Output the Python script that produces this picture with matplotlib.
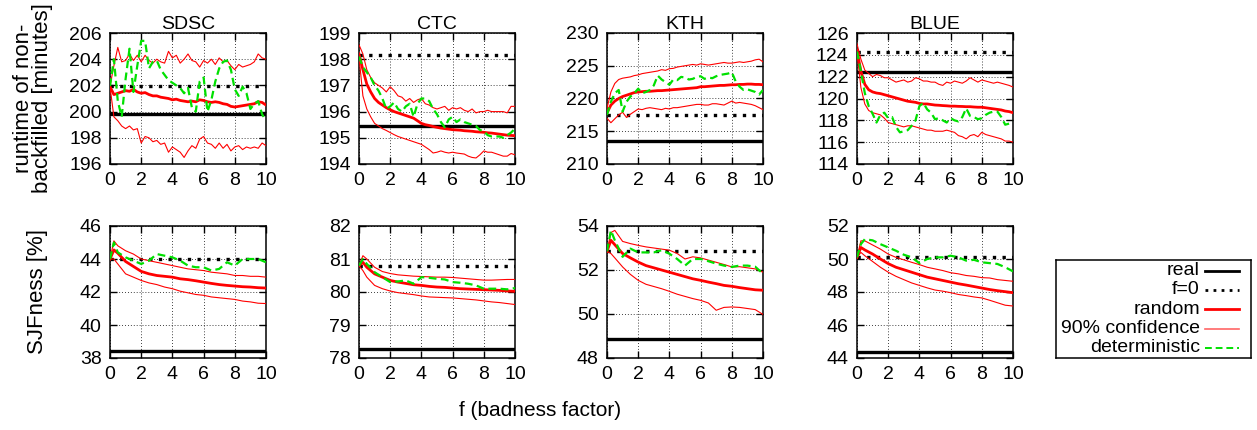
import numpy as np
import matplotlib.pyplot as plt

plt.rcParams['font.family'] = ['Liberation Sans', 'DejaVu Sans']
plt.rcParams['font.size'] = 14

W, H = 1257, 430

# badness factor samples
F_TOP = np.arange(0, 10.01, 0.25)
F_BOT = np.array([0, 0.25] + list(np.arange(0.5, 10.01, 0.5)))

SITES = ["SDSC", "CTC", "KTH", "BLUE"]

# ---- runtime of non-backfilled jobs [minutes] ----
RT_REAL = [199.85, 195.45, 213.5, 122.4]
RT_F0 = [201.95, 198.15, 217.5, 124.25]
RT_YLIM = [(196, 206, 2), (194, 199, 1), (210, 230, 5), (114, 126, 2)]

SDSC_RT_RANDOM = [201.9, 201.3, 201.4, 201.5, 201.6, 201.55, 201.7, 201.5, 201.4, 201.45,
                  201.3, 201.2, 201.2, 201.1, 201.05, 201.0, 200.9, 200.95, 200.85, 200.8,
                  200.75, 200.8, 200.75, 200.9, 200.85, 200.75, 200.7, 200.75, 200.7, 200.6,
                  200.55, 200.4, 200.35, 200.4, 200.45, 200.5, 200.55, 200.6, 200.75, 200.7, 200.5]
SDSC_RT_HI = [201.95, 203.5, 204.9, 203.8, 203.9, 204.4, 203.9, 204.3, 203.8, 204.3,
              203.9, 203.7, 204.0, 203.8, 203.7, 204.6, 204.1, 204.3, 203.7, 204.0,
              204.4, 203.9, 203.8, 203.4, 203.9, 203.7, 204.0, 203.6, 204.1, 203.8,
              203.9, 203.5, 203.2, 203.6, 203.4, 203.5, 203.6, 203.8, 204.4, 204.1, 204.0]
SDSC_RT_LO = [201.9, 199.6, 199.3, 198.9, 198.7, 198.9, 198.6, 198.7, 197.6, 198.1,
              198.0, 197.7, 197.8, 197.5, 197.6, 196.9, 197.3, 197.1, 196.9, 196.5,
              197.0, 197.4, 197.2, 197.9, 198.1, 197.6, 197.5, 197.2, 197.6, 197.2,
              197.5, 197.0, 197.3, 197.4, 197.1, 197.3, 197.2, 197.3, 197.2, 197.6, 197.4]
SDSC_RT_DET = [201.95, 204.0, 200.8, 199.6, 202.5, 204.8, 201.5, 203.5, 205.4, 205.4,
               203.3, 203.8, 203.9, 203.2, 202.8, 202.4, 202.2, 202.0, 201.8, 201.4,
               201.8, 200.3, 200.0, 202.3, 202.6, 200.0, 200.9, 202.3, 203.3, 203.8,
               203.9, 203.2, 201.7, 201.2, 201.9, 201.4, 200.2, 200.6, 200.8, 199.8, 199.3]

CTC_RT_RANDOM = [198.2, 197.6, 197.05, 196.75, 196.5, 196.35, 196.25, 196.15, 196.07, 196.0,
                 195.95, 195.9, 195.85, 195.8, 195.75, 195.65, 195.55, 195.5, 195.47, 195.43,
                 195.4, 195.37, 195.35, 195.33, 195.31, 195.3, 195.29, 195.27, 195.26, 195.25,
                 195.23, 195.22, 195.21, 195.19, 195.18, 195.16, 195.14, 195.12, 195.1, 195.09, 195.08]
CTC_RT_HI = [198.55, 198.2, 197.6, 197.3, 197.1, 197.0, 196.9, 196.75, 196.95, 196.8,
             196.6, 196.55, 196.4, 196.5, 196.35, 196.45, 196.5, 196.3, 196.25, 196.15,
             196.1, 196.15, 196.2, 196.05, 196.15, 196.1, 196.15, 196.05, 196.0, 196.1,
             195.95, 196.0, 196.0, 196.05, 196.0, 196.0, 196.0, 196.0, 195.95, 196.2, 196.2]
CTC_RT_LO = [198.1, 196.6, 196.1, 195.8, 195.55, 195.45, 195.35, 195.28, 195.2, 195.12,
             195.05, 195.0, 194.95, 194.9, 194.85, 194.8, 194.75, 194.65, 194.55, 194.42,
             194.45, 194.5, 194.45, 194.42, 194.45, 194.42, 194.4, 194.38, 194.3, 194.25,
             194.23, 194.35, 194.5, 194.45, 194.45, 194.4, 194.35, 194.3, 194.3, 194.4, 194.35]
CTC_RT_DET = [198.1, 197.7, 197.5, 197.3, 197.0, 196.8, 196.5, 196.1, 196.2, 196.35,
              196.1, 196.0, 196.2, 196.3, 195.8, 196.3, 196.5, 196.5, 196.4, 196.1,
              195.9, 195.6, 195.4, 195.7, 195.8, 195.6, 195.7, 195.6, 195.55, 195.5,
              195.45, 195.3, 195.25, 195.1, 195.05, 195.05, 195.05, 195.0, 195.1, 195.2, 195.35]

KTH_RT_RANDOM = [217.8, 219.0, 219.6, 220.0, 220.3, 220.5, 220.7, 220.9, 221.0, 221.05,
                 221.1, 221.1, 221.15, 221.2, 221.2, 221.25, 221.3, 221.35, 221.4, 221.45,
                 221.5, 221.55, 221.6, 221.65, 221.8, 221.8, 221.85, 221.9, 221.95, 222.0,
                 222.0, 222.05, 222.1, 222.1, 222.15, 222.15, 222.2, 222.2, 222.15, 222.15, 222.1]
KTH_RT_HI = [218.5, 221.0, 222.3, 222.9, 223.1, 223.2, 223.3, 223.5, 223.6, 223.8,
             223.9, 224.0, 224.1, 224.2, 224.4, 224.3, 224.55, 224.6, 224.8, 224.9,
             225.0, 225.1, 225.2, 225.1, 225.3, 225.2, 225.1, 225.2, 225.3, 225.4,
             225.5, 225.4, 225.4, 225.5, 225.6, 225.5, 225.6, 225.7, 225.9, 226.0, 225.6]
KTH_RT_LO = [217.0, 216.3, 216.9, 217.5, 217.9, 217.1, 217.6, 218.0, 218.4, 218.3,
             218.5, 218.6, 218.5, 218.4, 218.3, 218.5, 218.4, 218.6, 218.6, 218.7,
             218.8, 218.9, 219.0, 219.1, 219.1, 219.0, 219.0, 219.2, 219.2, 219.1,
             219.0, 219.3, 219.6, 219.3, 219.4, 219.3, 219.2, 219.1, 218.9, 218.6, 218.3]
KTH_RT_DET = [217.5, 219.5, 220.8, 221.3, 218.0, 219.5, 220.3, 220.8, 221.5, 220.8,
              221.0, 221.3, 222.0, 223.5, 222.9, 222.5, 222.1, 222.9, 222.8, 223.3,
              223.2, 222.9, 223.0, 223.3, 223.4, 223.0, 223.2, 223.1, 223.4, 223.6,
              223.7, 223.8, 224.0, 222.6, 221.8, 221.3, 221.4, 221.2, 221.0, 220.6, 221.3]

BLUE_RT_RANDOM = [124.4, 122.5, 121.3, 120.8, 120.6, 120.5, 120.45, 120.35, 120.25, 120.15,
                  120.05, 119.95, 119.85, 119.75, 119.7, 119.65, 119.55, 119.5, 119.5, 119.45,
                  119.4, 119.38, 119.35, 119.33, 119.3, 119.3, 119.28, 119.27, 119.25, 119.25,
                  119.22, 119.2, 119.2, 119.15, 119.1, 119.05, 119.0, 118.95, 118.85, 118.8, 118.7]
BLUE_RT_HI = [125.0, 123.6, 122.6, 122.3, 122.0, 122.2, 122.1, 121.9, 121.9, 121.7,
              121.5, 121.6, 121.7, 121.5, 121.6, 121.9, 121.8, 121.6, 121.6, 121.5,
              121.5, 121.3, 121.2, 121.5, 121.4, 121.6, 121.5, 121.4, 121.6, 121.9,
              121.7, 121.5, 121.7, 121.6, 121.5, 121.4, 121.5, 121.4, 121.3, 121.2, 121.05]
BLUE_RT_LO = [124.3, 121.0, 119.5, 118.9, 118.7, 118.6, 118.5, 118.2, 117.8, 117.7,
              117.6, 117.5, 117.4, 117.5, 117.5, 117.4, 117.3, 117.2, 117.1, 117.1,
              117.0, 117.0, 117.0, 117.1, 117.0, 116.9, 116.6, 116.5, 116.3, 116.6,
              116.7, 116.5, 116.9, 116.7, 116.6, 116.5, 116.4, 116.3, 116.1, 116.1, 116.0]
BLUE_RT_DET = [124.3, 122.5, 120.5, 119.3, 118.6, 117.8, 118.5, 118.7, 118.2, 118.3,
               117.4, 116.9, 117.0, 117.1, 117.5, 118.0, 119.3, 119.6, 119.0, 118.7,
               118.1, 118.2, 118.0, 117.8, 118.2, 118.0, 117.9, 118.3, 119.1, 118.4,
               118.3, 118.1, 118.2, 118.5, 118.7, 118.8, 118.8, 118.3, 117.6, 117.7, 117.9]

# ---- SJFness [%] ----
SJF_REAL = [38.45, 78.28, 48.85, 44.35]
SJF_F0 = [44.0, 80.8, 52.85, 50.1]
SJF_YLIM = [(38, 46, 2), (78, 82, 1), (48, 54, 2), (44, 52, 2)]

SDSC_SJF_RANDOM = [44.0, 44.55, 44.35, 43.85, 43.55, 43.25, 43.1, 43.0, 42.95, 42.9, 42.8,
                   42.75, 42.68, 42.6, 42.52, 42.45, 42.4, 42.36, 42.32, 42.3, 42.26, 42.24]
SDSC_SJF_HI = [44.0, 45.1, 44.8, 44.5, 44.3, 44.0, 43.9, 43.8, 43.7, 43.6, 43.5,
               43.4, 43.35, 43.3, 43.2, 43.15, 43.1, 43.0, 43.0, 42.95, 42.95, 42.9]
SDSC_SJF_LO = [44.0, 44.0, 43.7, 43.1, 42.9, 42.7, 42.55, 42.45, 42.3, 42.2, 42.05,
               41.95, 41.85, 41.8, 41.7, 41.65, 41.6, 41.55, 41.45, 41.4, 41.32, 41.3]
SDSC_SJF_DET = [44.0, 45.0, 44.4, 44.1, 43.9, 43.7, 43.9, 44.3, 44.2, 44.1, 43.9,
                43.6, 43.5, 43.5, 43.3, 43.4, 43.8, 43.6, 44.0, 44.0, 44.0, 43.8]

CTC_SJF_RANDOM = [80.8, 80.9, 80.75, 80.55, 80.45, 80.35, 80.3, 80.26, 80.22, 80.2, 80.17,
                  80.15, 80.14, 80.12, 80.1, 80.09, 80.08, 80.07, 80.06, 80.05, 80.03, 80.02]
CTC_SJF_HI = [80.8, 81.1, 81.0, 80.75, 80.62, 80.56, 80.52, 80.5, 80.48, 80.47, 80.46,
              80.45, 80.45, 80.44, 80.42, 80.4, 80.38, 80.36, 80.36, 80.37, 80.38, 80.38]
CTC_SJF_LO = [80.8, 80.65, 80.45, 80.2, 80.1, 80.03, 79.98, 79.95, 79.92, 79.88, 79.85,
              79.84, 79.83, 79.82, 79.8, 79.78, 79.76, 79.73, 79.7, 79.68, 79.65, 79.62]
CTC_SJF_DET = [80.8, 81.0, 80.85, 80.6, 80.45, 80.3, 80.32, 80.35, 80.25, 80.45, 80.43,
               80.4, 80.38, 80.3, 80.28, 80.25, 80.2, 80.1, 80.1, 80.1, 80.08, 80.12]

KTH_SJF_RANDOM = [52.85, 53.35, 53.15, 52.75, 52.55, 52.36, 52.2, 52.1, 52.0, 51.9, 51.8,
                  51.7, 51.6, 51.53, 51.45, 51.38, 51.3, 51.26, 51.2, 51.15, 51.1, 51.08]
KTH_SJF_HI = [52.85, 53.7, 53.8, 53.3, 53.2, 53.12, 53.05, 53.0, 52.95, 52.9, 52.75,
              52.5, 52.6, 52.55, 52.45, 52.35, 52.25, 52.14, 52.15, 52.1, 52.05, 51.9]
KTH_SJF_LO = [52.85, 52.75, 52.55, 52.14, 51.8, 51.53, 51.35, 51.25, 51.15, 51.03, 50.9,
              50.8, 50.7, 50.62, 50.5, 50.17, 50.3, 50.32, 50.3, 50.25, 50.2, 49.98]
KTH_SJF_DET = [52.85, 53.8, 53.35, 52.6, 52.97, 52.8, 52.8, 52.8, 52.9, 52.74, 52.5,
               52.2, 52.5, 52.5, 52.4, 52.29, 52.2, 52.14, 52.2, 52.2, 52.15, 51.83]

BLUE_SJF_RANDOM = [50.1, 50.7, 50.55, 50.3, 50.0, 49.72, 49.5, 49.35, 49.2, 49.05, 48.9,
                   48.8, 48.7, 48.6, 48.5, 48.42, 48.33, 48.24, 48.15, 48.08, 48.02, 47.96]
BLUE_SJF_HI = [50.1, 51.1, 51.1, 50.85, 50.6, 50.3, 50.1, 49.95, 49.8, 49.66, 49.5,
               49.4, 49.3, 49.17, 49.1, 49.0, 48.95, 48.87, 48.85, 48.75, 48.7, 48.65]
BLUE_SJF_LO = [50.1, 50.4, 50.2, 49.85, 49.5, 49.2, 48.95, 48.75, 48.55, 48.4, 48.25,
               48.12, 48.05, 47.96, 47.85, 47.78, 47.7, 47.64, 47.5, 47.35, 47.2, 47.15]
BLUE_SJF_DET = [50.1, 50.9, 51.2, 51.13, 50.9, 50.7, 50.5, 50.26, 50.1, 49.75, 50.0,
                50.1, 50.1, 50.2, 50.1, 49.9, 49.95, 49.8, 49.75, 49.7, 49.5, 49.25]

RT_SERIES = [
    (SDSC_RT_RANDOM, SDSC_RT_HI, SDSC_RT_LO, SDSC_RT_DET),
    (CTC_RT_RANDOM, CTC_RT_HI, CTC_RT_LO, CTC_RT_DET),
    (KTH_RT_RANDOM, KTH_RT_HI, KTH_RT_LO, KTH_RT_DET),
    (BLUE_RT_RANDOM, BLUE_RT_HI, BLUE_RT_LO, BLUE_RT_DET),
]
SJF_SERIES = [
    (SDSC_SJF_RANDOM, SDSC_SJF_HI, SDSC_SJF_LO, SDSC_SJF_DET),
    (CTC_SJF_RANDOM, CTC_SJF_HI, CTC_SJF_LO, CTC_SJF_DET),
    (KTH_SJF_RANDOM, KTH_SJF_HI, KTH_SJF_LO, KTH_SJF_DET),
    (BLUE_SJF_RANDOM, BLUE_SJF_HI, BLUE_SJF_LO, BLUE_SJF_DET),
]

GREEN = '#00e000'
DOTS = (0, (1, 1.9))
DASH = (0, (3.5, 2))

fig = plt.figure(figsize=(W / 100, H / 100), dpi=100)


def px_axes(left, top, width, height):
    return fig.add_axes([left / W, 1 - (top + height) / H, width / W, height / H])


def draw_panel(ax, f, real, f0, series, ylim):
    rnd, hi, lo, det = series
    lo_y, hi_y, step = ylim
    ax.axhline(real, color='black', lw=2.4, zorder=3)
    ax.axhline(f0, color='black', lw=2.4, ls=DOTS, zorder=3)
    ax.plot(f, hi, color='red', lw=0.8, zorder=4)
    ax.plot(f, lo, color='red', lw=0.8, zorder=4)
    ax.plot(f, rnd, color='red', lw=2.0, zorder=5)
    ax.plot(f, det, color=GREEN, lw=1.6, ls=DASH, zorder=6)
    ax.set_xlim(0, 10)
    ax.set_ylim(lo_y, hi_y)
    ax.set_xticks(range(0, 11, 2))
    ax.set_yticks(range(lo_y, hi_y + 1, step))
    ax.grid(True, color='black', lw=0.6, ls=(0, (1, 2.5)))
    ax.tick_params(direction='in', top=True, right=True, length=5, width=1, pad=6,
                   labelsize=14)
    for s in ax.spines.values():
        s.set_linewidth(1.1)


lefts = [110, 359, 607, 857]
for i, site in enumerate(SITES):
    ax = px_axes(lefts[i], 33, 156, 131)
    draw_panel(ax, F_TOP, RT_REAL[i], RT_F0[i], RT_SERIES[i], RT_YLIM[i])
    ax.set_title(site, fontsize=14, pad=3)

    ax = px_axes(lefts[i], 226, 156, 132)
    draw_panel(ax, F_BOT, SJF_REAL[i], SJF_F0[i], SJF_SERIES[i], SJF_YLIM[i])

fig.text(33 / W, 1 - 98 / H, "runtime of non-\nbackfilled [minutes]", rotation=90,
         ha='center', va='center', fontsize=16, linespacing=0.85)
fig.text(38 / W, 1 - 291 / H, "SJFness [%]", rotation=90, ha='center', va='center', fontsize=16)
fig.text(540 / W, 1 - 410 / H, "f (badness factor)", ha='center', va='center', fontsize=15)

# legend drawn gnuplot style: label right aligned, sample to the right
lax = px_axes(1056, 260, 195, 98)
lax.set_xlim(0, 1)
lax.set_ylim(0, 1)
lax.set_xticks([])
lax.set_yticks([])
for s in lax.spines.values():
    s.set_linewidth(1.1)
labels = ["real", "f=0", "random", "90% confidence", "deterministic"]
styles = [dict(color='black', lw=2.0), dict(color='black', lw=2.0, ls=DOTS),
          dict(color='red', lw=2.0), dict(color='#ff6666', lw=1.2),
          dict(color=GREEN, lw=1.4, ls=DASH)]
rows = [0.891, 0.694, 0.498, 0.301, 0.105]
for lab, st, y in zip(labels, styles, rows):
    lax.text(0.738, y, lab, ha='right', va='center', fontsize=14)
    lax.plot([0.764, 0.938], [y, y], **st)

fig.savefig("out.png", dpi=100)
